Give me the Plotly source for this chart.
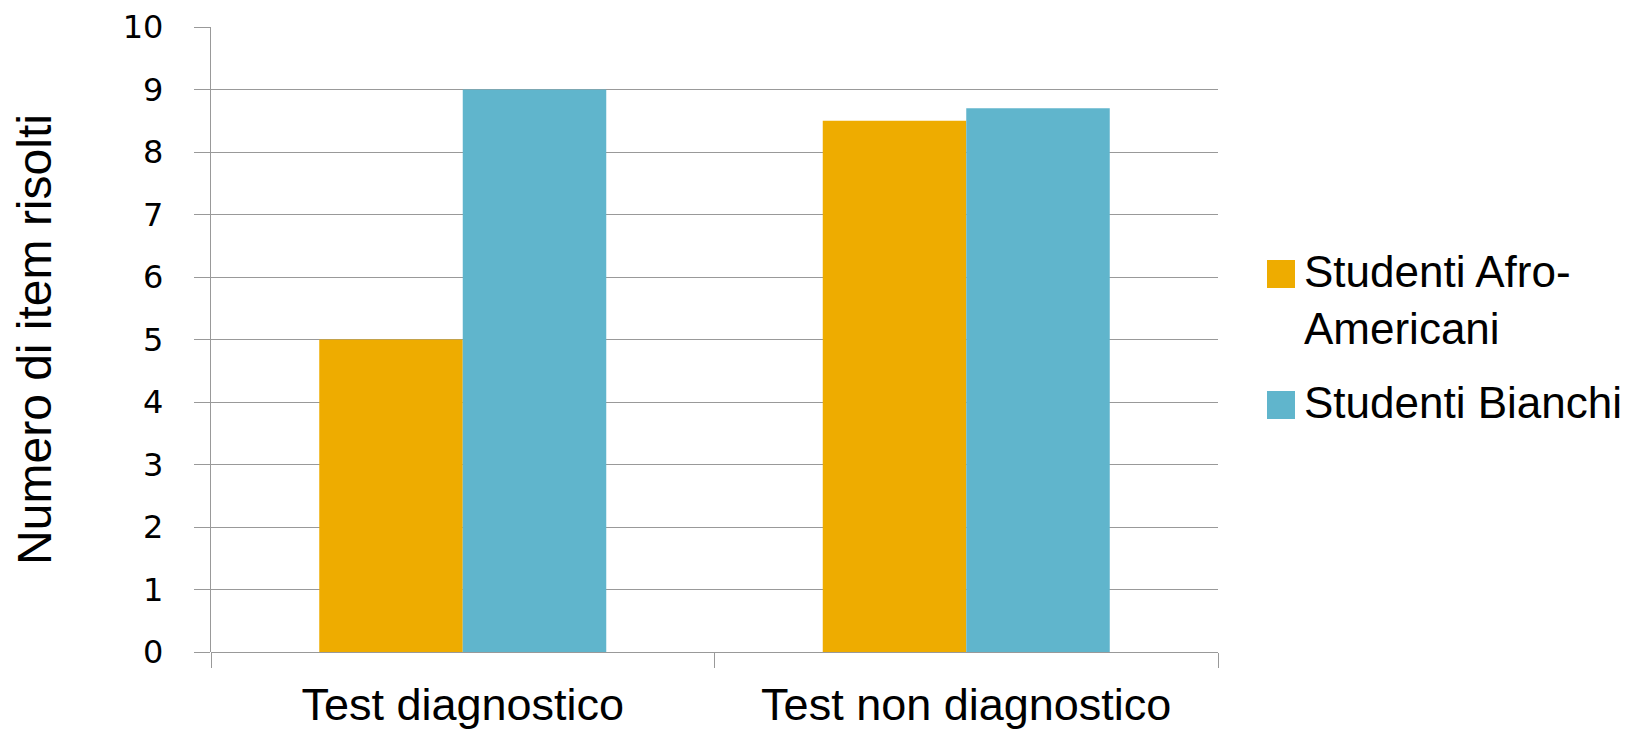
import plotly.graph_objects as go

categories = ["Test diagnostico", "Test non diagnostico"]
series_names = ["Studenti Afro-<br>Americani", "Studenti Bianchi"]
afro_values = [5.0, 8.5]
bianchi_values = [9.0, 8.7]
colors = ["#EEAC00", "#60B5CC"]
y_ticks = list(range(0, 11))

W, H = 1643, 732
L, R, T, B = 203, 433, 19, 88
pw = W - L - R
ph = H - T - B

def px_x(x):
    return (x - L) / pw

def px_y(y):
    return (H - B - y) / ph

fig = go.Figure()
fig.add_trace(go.Bar(x=categories, y=afro_values, name=series_names[0],
                     marker=dict(color=colors[0], line=dict(width=0))))
fig.add_trace(go.Bar(x=categories, y=bianchi_values, name=series_names[1],
                     marker=dict(color=colors[1], line=dict(width=0))))

# custom legend (large square swatches)
leg_sq = 28
leg_x = 1259
leg_rows = [(252, 0), (383, 1)]
for top, i in leg_rows:
    fig.add_shape(type="rect", xref="paper", yref="paper",
                  x0=px_x(leg_x), x1=px_x(leg_x + leg_sq),
                  y0=px_y(top + leg_sq), y1=px_y(top),
                  fillcolor=colors[i], line=dict(width=0))
    fig.add_annotation(xref="paper", yref="paper", x=px_x(leg_x + 35), y=px_y(top - 15),
                       xanchor="left", yanchor="top", align="left", showarrow=False,
                       text=series_names[i],
                       font=dict(size=44, family="Liberation Sans, sans-serif", color="black"))

grid = "#999999"
fig.update_layout(
    width=W, height=H,
    margin=dict(l=L, r=R, t=T, b=B, autoexpand=False),
    paper_bgcolor="white", plot_bgcolor="white",
    barmode="group", bargap=0.43, bargroupgap=0,
    showlegend=False,
    font=dict(family="Liberation Sans, sans-serif", color="black"),
    xaxis=dict(
        tickson="boundaries", ticks="outside", ticklen=15, tickcolor=grid, tickwidth=1.3,
        showline=False, showgrid=False,
        tickfont=dict(size=45, family="Liberation Sans, sans-serif"),
        ticklabelstandoff=22,
    ),
    yaxis=dict(
        range=[0, 10], tickvals=y_ticks, ticks="outside", ticklen=16, tickcolor=grid, tickwidth=1.3,
        showgrid=True, gridcolor=grid, gridwidth=1.3,
        showline=True, linecolor=grid, linewidth=1.3,
        zeroline=True, zerolinecolor=grid, zerolinewidth=1.3,
        tickfont=dict(size=32, family="DejaVu Sans"),
        ticklabelstandoff=24, ticklabeloverflow="allow",
        title=dict(text="Numero di item risolti", standoff=80,
                   font=dict(size=48, family="Liberation Sans, sans-serif")),
    ),
)

fig.write_html("out.html")
